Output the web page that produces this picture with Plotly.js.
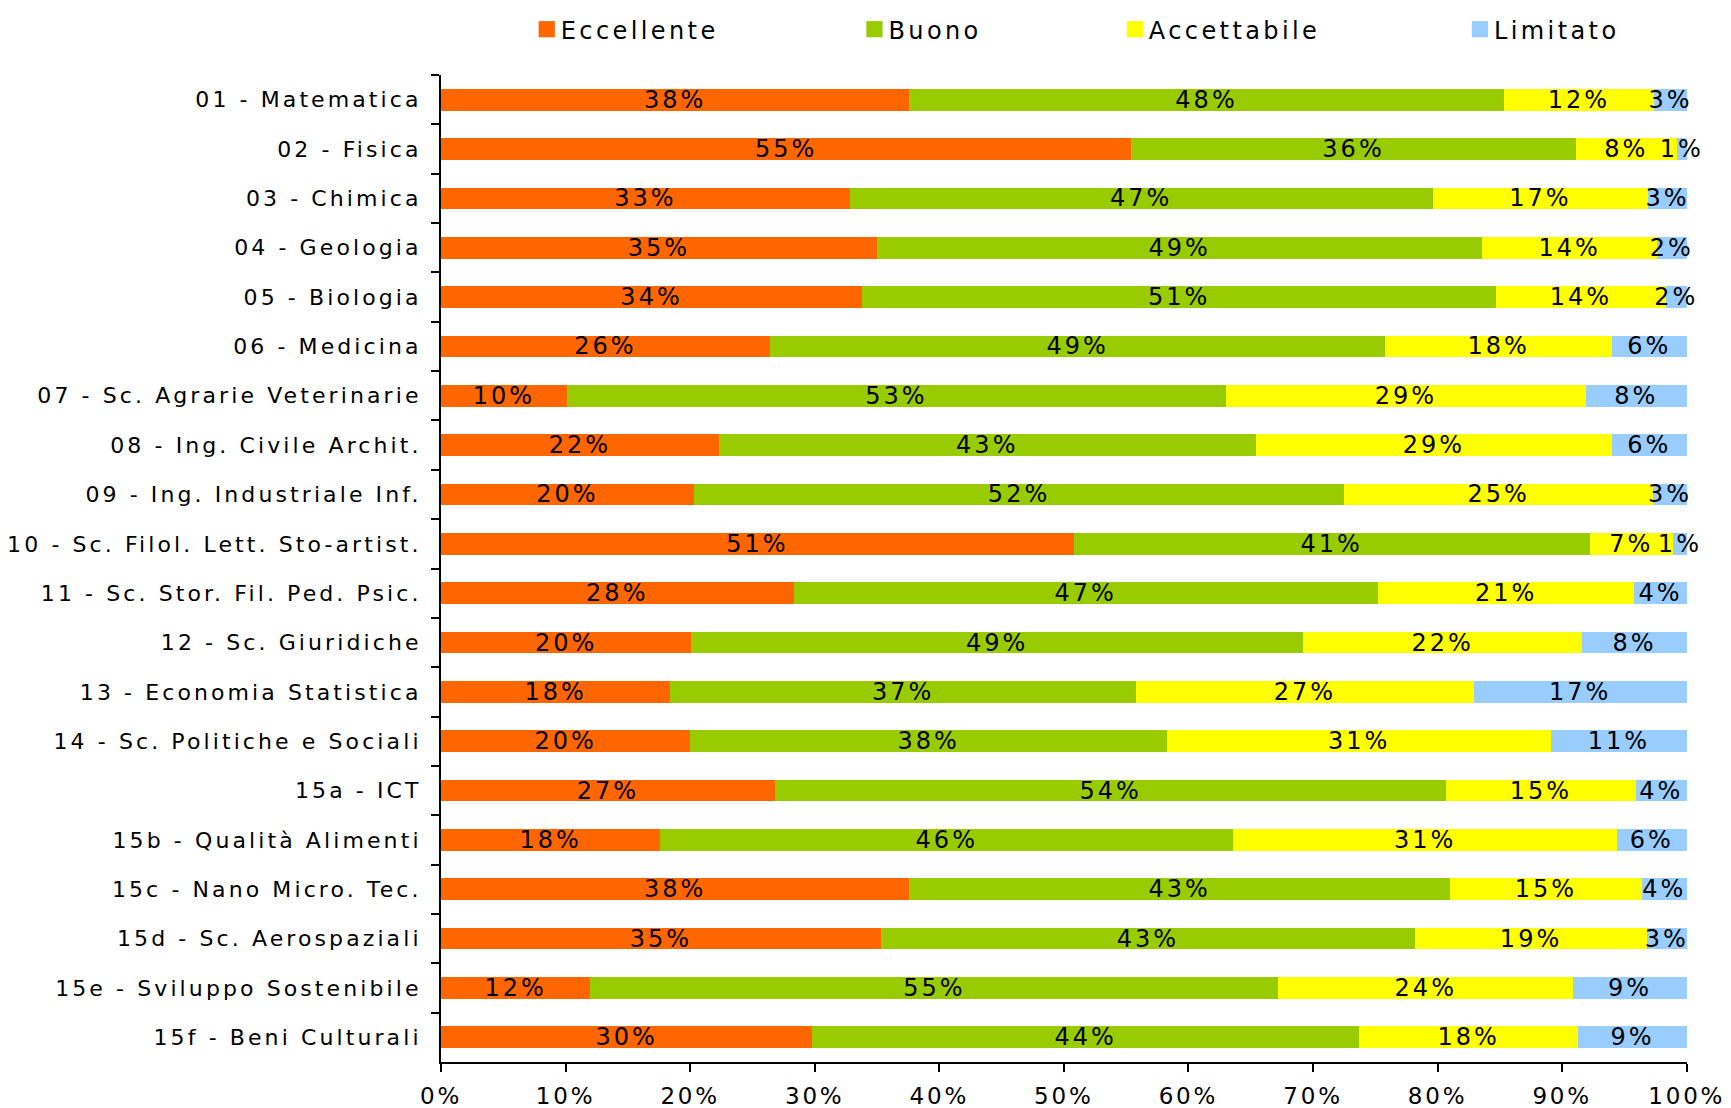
<!DOCTYPE html>
<html>
<head>
<meta charset="utf-8">
<script src="https://cdn.plot.ly/plotly-3.0.1.min.js"></script>
<style>
  html, body { margin: 0; padding: 0; background: #fff; }
  #chart { width: 1731px; height: 1108px; }
  .ytick text { letter-spacing: 3.1px; }
  .xtick text { letter-spacing: 2.8px; }
  .bartext, .textpoint text { letter-spacing: 3px; }
  .infolayer g[class^="legend"] text { letter-spacing: 3.4px; }
  .infolayer g[class^="legend"] .scrollbox { clip-path: none !important; }
  .infolayer g[class^="legend"] { clip-path: none !important; }
  .legendpoints path { transform: translate(26px, 0px) scale(1.35); }
</style>
</head>
<body>
<div id="chart"></div>
<script>
const categories = [
  "01 - Matematica",
  "02 - Fisica",
  "03 - Chimica",
  "04 - Geologia",
  "05 - Biologia",
  "06 - Medicina",
  "07 - Sc. Agrarie Veterinarie",
  "08 - Ing. Civile Archit.",
  "09 - Ing. Industriale Inf.",
  "10 - Sc. Filol. Lett. Sto-artist.",
  "11 - Sc. Stor. Fil. Ped. Psic.",
  "12 - Sc. Giuridiche",
  "13 - Economia Statistica",
  "14 - Sc. Politiche e Sociali",
  "15a - ICT",
  "15b - Qualità Alimenti",
  "15c - Nano Micro. Tec.",
  "15d - Sc. Aerospaziali",
  "15e - Sviluppo Sostenibile",
  "15f - Beni Culturali"
];

const eccellente  = [37.6, 55.4, 32.8, 35.0, 33.8, 26.4, 10.1, 22.3, 20.3, 50.8, 28.3, 20.1, 18.4, 20.0, 26.8, 17.6, 37.6, 35.3, 12.0, 29.8];
const buono       = [47.7, 35.7, 46.8, 48.6, 50.9, 49.4, 52.9, 43.1, 52.2, 41.4, 46.9, 49.1, 37.4, 38.3, 53.9, 46.0, 43.4, 42.9, 55.2, 43.9];
const accettabile = [12.1,  8.1, 17.3, 14.0, 13.6, 18.2, 28.9, 28.6, 24.8,  6.7, 20.6, 22.4, 27.1, 30.8, 15.2, 30.8, 15.4, 18.6, 23.7, 17.6];
const limitato    = [ 2.6,  0.8,  3.1,  2.4,  1.7,  6.0,  8.1,  6.0,  2.7,  1.1,  4.2,  8.4, 17.1, 10.9,  4.1,  5.6,  3.6,  3.2,  9.1,  8.7];

const xTickVals = [0, 10, 20, 30, 40, 50, 60, 70, 80, 90, 100];
const xTickText = ["0%", "10%", "20%", "30%", "40%", "50%", "60%", "70%", "80%", "90%", "100%"];

const seriesNames = ["Eccellente", "Buono", "Accettabile", "Limitato"];
const seriesData = [eccellente, buono, accettabile, limitato];
const seriesColors = ["#FF6600", "#99CC00", "#FFFF00", "#99CCFF"];
const legendIds = ["legend", "legend2", "legend3", "legend4"];

const FONT = "DejaVu Sans, Verdana, sans-serif";

const traces = seriesData.map((vals, i) => ({
  type: "bar",
  orientation: "h",
  name: seriesNames[i],
  y: categories,
  x: vals,
  marker: { color: seriesColors[i], line: { width: 0 } },
  text: vals.map(v => Math.round(v) + "%"),
  textposition: "inside",
  insidetextanchor: "middle",
  constraintext: "none",
  cliponaxis: false,
  textangle: 0,
  textfont: { family: FONT, size: 24, color: "#000" },
  hoverinfo: "name+x",
  legend: legendIds[i]
}));

const legendBase = (x) => ({
  orientation: "h",
  x: x, xanchor: "left",
  y: 1.046, yanchor: "middle",
  font: { family: FONT, size: 24, color: "#000" },
  bgcolor: "rgba(0,0,0,0)",
  borderwidth: 0
});

const layout = {
  width: 1731,
  height: 1108,
  margin: { l: 441, r: 44, t: 75, b: 46, autoexpand: false },
  paper_bgcolor: "#fff",
  plot_bgcolor: "#fff",
  barmode: "stack",
  bargap: 0.56,
  font: { family: FONT, color: "#000" },
  showlegend: true,
  legend: legendBase(0.064),
  legend2: legendBase(0.327),
  legend3: legendBase(0.536),
  legend4: legendBase(0.813),
  xaxis: {
    range: [0, 100.02],
    tickvals: xTickVals,
    ticktext: xTickText,
    ticks: "outside",
    ticklen: 8,
    tickwidth: 2,
    tickcolor: "#000",
    showline: true,
    linecolor: "#000",
    linewidth: 2,
    showgrid: false,
    zeroline: false,
    ticklabelstandoff: 4,
    tickfont: { family: FONT, size: 23, color: "#000" },
    fixedrange: true
  },
  yaxis: {
    type: "category",
    autorange: "reversed",
    ticks: "outside",
    tickson: "boundaries",
    ticklen: 8,
    tickwidth: 2,
    tickcolor: "#000",
    showline: true,
    linecolor: "#000",
    linewidth: 2,
    showgrid: false,
    zeroline: false,
    ticklabelstandoff: 13,
    tickfont: { family: FONT, size: 22, color: "#000" },
    fixedrange: true
  }
};

Plotly.newPlot("chart", traces, layout, { displayModeBar: false, staticPlot: true });
</script>
</body>
</html>
